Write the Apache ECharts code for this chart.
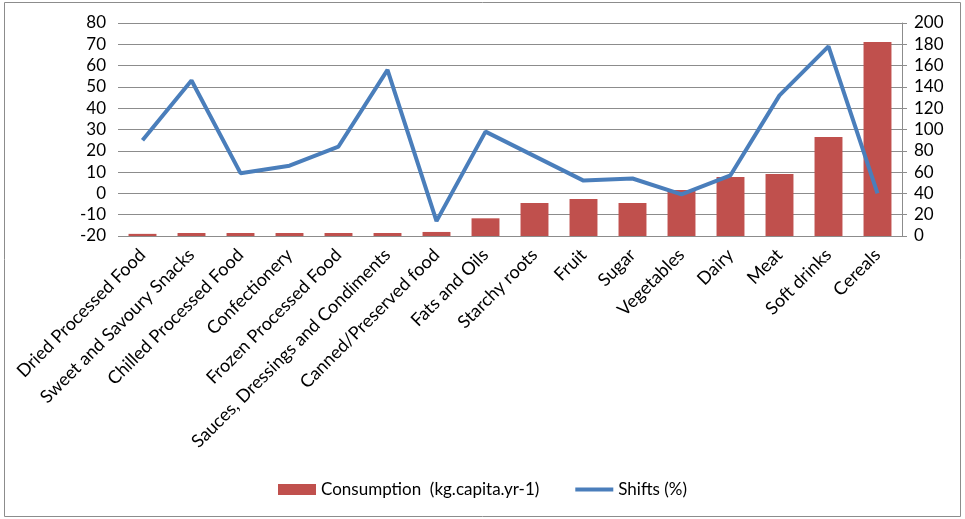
<!DOCTYPE html>
<html><head><meta charset="utf-8">
<script src="https://cdn.jsdelivr.net/npm/echarts@6/dist/echarts.min.js"></script>
<style>html,body{margin:0;padding:0;background:#fff}#c{width:965px;height:519px}</style>
</head><body><div id="c"></div>
<script>
const categories = ["Dried Processed Food","Sweet and Savoury Snacks","Chilled Processed Food","Confectionery","Frozen Processed Food","Sauces, Dressings and Condiments","Canned/Preserved food","Fats and Oils","Starchy roots","Fruit","Sugar","Vegetables","Dairy","Meat","Soft drinks","Cereals"];
const consumption = [-19.0,-18.6,-18.6,-18.6,-18.6,-18.6,-18.1,-11.7,-4.5,-2.6,-4.5,1.6,7.7,9.1,26.5,71.1];
const shifts = [90,146,59,66,84,156,14,98,75,52,54,39,57,132,178,40];
const leftTicks = {min:-20, max:80, interval:10};
const rightTicks = {min:0, max:200, interval:20};
const base = leftTicks.min;
const font = 'Lato, "Liberation Sans", sans-serif';
const chart = echarts.init(document.getElementById('c'), null, {renderer:'canvas'});
chart.setOption({
  animation:false,
  textStyle:{fontFamily:font},
  graphic:[{type:'rect', shape:{x:4.5,y:2.5,width:956,height:514}, style:{fill:'none', stroke:'#8c8c8c', lineWidth:1}}],
  grid:{left:118, right:63, top:23, bottom:283, containLabel:false},
  legend:{
    bottom:16, left:'center', itemGap:36, itemWidth:38, itemHeight:11, symbolKeepAspect:true,
    textStyle:{fontSize:17, color:'#000', fontFamily:font},
    data:[{name:'Consumption  (kg.capita.yr-1)', icon:'rect'},{name:'Shifts (%)', icon:'path://M0,0h38v4h-38z'}]
  },
  xAxis:{
    type:'category', data:categories,
    axisLine:{show:false}, axisTick:{show:false},
    axisLabel:{interval:0, rotate:45, fontSize:18, color:'#000', margin:16, fontFamily:font}
  },
  yAxis:[
    {type:'value', min:0, max:leftTicks.max-base, interval:leftTicks.interval,
     axisLine:{show:false}, axisTick:{show:false},
     axisLabel:{fontSize:17, color:'#000', margin:12, formatter:v=>String(v+base), fontFamily:font},
     splitLine:{lineStyle:{color:'#8c8c8c', width:1}}},
    {type:'value', min:rightTicks.min, max:rightTicks.max, interval:rightTicks.interval, position:'right',
     axisLine:{show:true, lineStyle:{color:'#8c8c8c'}}, axisTick:{show:true, length:5, lineStyle:{color:'#8c8c8c'}},
     axisLabel:{fontSize:17, color:'#000', margin:12, fontFamily:font},
     splitLine:{show:false}}
  ],
  series:[
    {name:'Consumption  (kg.capita.yr-1)', type:'bar', yAxisIndex:0, barCategoryGap:'43%',
     itemStyle:{color:'#c0504d'}, data:consumption.map(v=>+(v-base).toFixed(2))},
    {name:'Shifts (%)', type:'line', yAxisIndex:1, symbol:'none', z:5,
     lineStyle:{color:'#4a7ebb', width:4}, itemStyle:{color:'#4a7ebb'}, data:shifts}
  ]
});
</script></body></html>
